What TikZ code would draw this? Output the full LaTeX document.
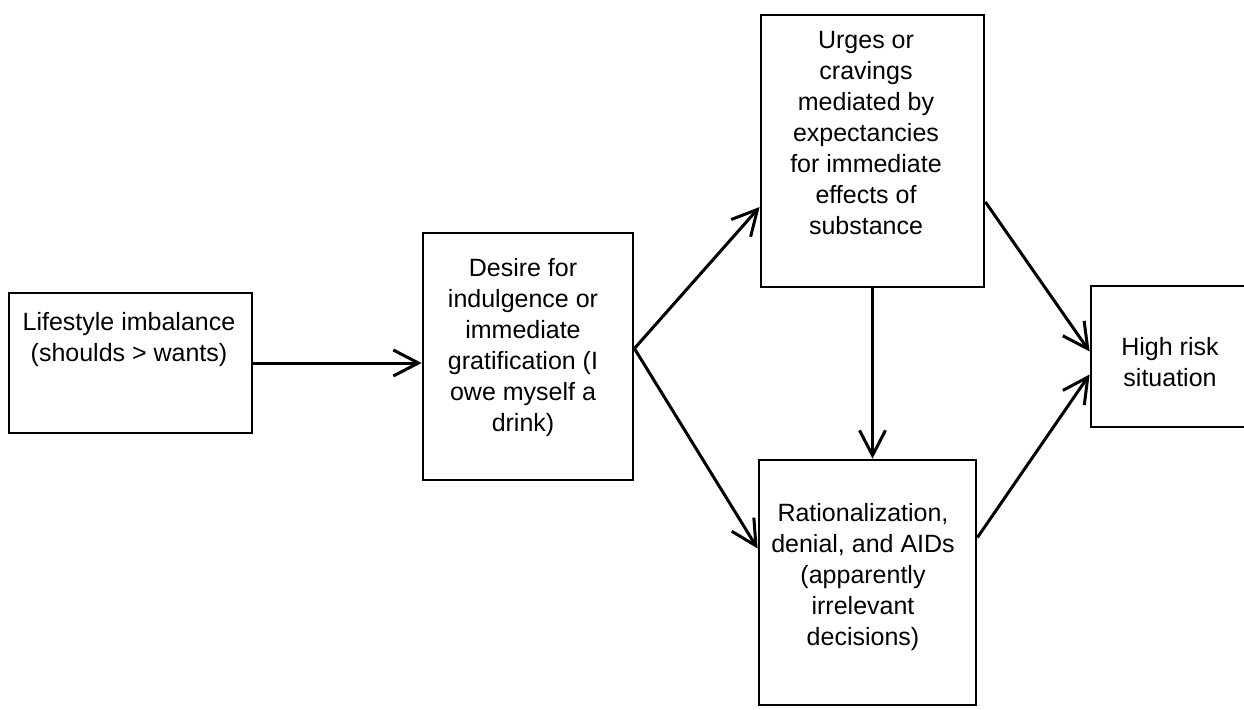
\documentclass[tikz,border=0pt]{standalone}
\usepackage{fontspec}
\setmainfont{Liberation Sans}
\usetikzlibrary{arrows.meta}
\begin{document}
\begin{tikzpicture}[x=1pt,y=-1pt,
  box/.style={draw=black, line width=2.8pt, inner sep=0pt, rectangle},
  txt/.style={align=center, inner sep=0pt, anchor=north, text=black,
    font=\fontsize{25pt}{31pt}\selectfont},
  link/.style={draw=black, line width=3pt,
    -{Straight Barb[length=25pt, width=26pt, line width=3pt]}}]
\useasboundingbox (0,0) rectangle (1244,709);

% boxes
\node[box, minimum width=243pt, minimum height=140pt] (life)   at (130.5,363)   {};
\node[box, minimum width=210pt, minimum height=247pt] (desire) at (528,356.5)   {};
\node[box, minimum width=223pt, minimum height=272pt] (urges)  at (872.5,151)   {};
\node[box, minimum width=217pt, minimum height=245pt] (ration) at (867.5,582.5) {};
\node[box, minimum width=161pt, minimum height=141pt] (high)   at (1171.5,356.5) {};

% box texts
\node[txt] (lifetext)   at (129,312)  {Lifestyle imbalance\\(shoulds > wants)};
\node[txt] (desiretext) at (523,258)  {Desire for\\indulgence or\\immediate\\gratification (I\\owe myself a\\drink)};
\node[txt] (urgestext)  at (866,31)   {Urges or\\cravings\\mediated by\\expectancies\\for immediate\\effects of\\substance};
\node[txt] (rationtext) at (863,503)  {Rationalization,\\denial, and AIDs\\(apparently\\irrelevant\\decisions)};
\node[txt] (hightext)   at (1170,337) {High risk\\situation};

% connectors
\draw[link] (life.east) -- (life.east -| desire.west);
\draw[link] ([yshift=8pt]desire.east) -- ([yshift=-56pt]urges.west);
\draw[link] ([yshift=8pt]desire.east) -- ([yshift=34pt]ration.west);
\draw[link] (urges.south) -- (urges.south |- ration.north);
\draw[link] ([yshift=-51pt]urges.east) -- ([yshift=5pt]high.west);
\draw[link] ([yshift=45pt]ration.east) -- ([yshift=-18pt]high.west);
\end{tikzpicture}
\end{document}
